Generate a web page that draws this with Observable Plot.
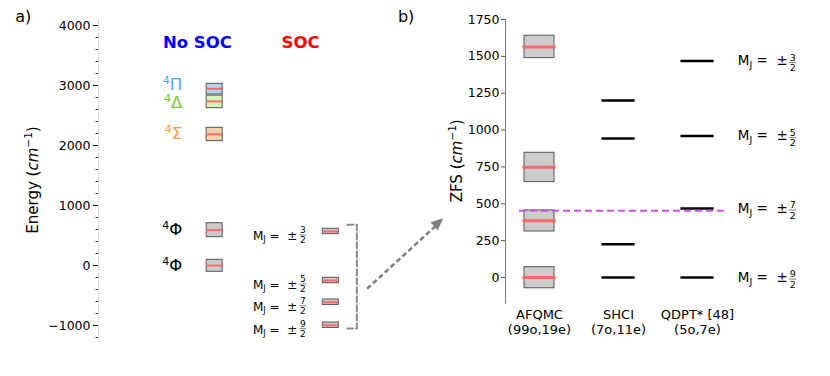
<!DOCTYPE html>
<html><head><meta charset="utf-8">
<script src="https://cdn.jsdelivr.net/npm/d3@7"></script>
<script src="https://cdn.jsdelivr.net/npm/@observablehq/plot@0.6"></script>
<style>
html,body{margin:0;padding:0;background:#fff;}
#chart{position:relative;width:830px;height:376px;overflow:hidden;font-family:"DejaVu Sans",sans-serif;}
#chart svg{position:absolute;top:0;overflow:visible;}
</style></head><body><div id="chart"></div>
<script>
const FONT = '"DejaVu Sans", sans-serif';

// ---------- Panel a) data ----------
const noSocTerms   = ["Φ", "Φ", "Σ", "Δ", "Π"];
const noSocEnergy  = [0, 590, 2185, 2735, 2945];
const noSocLow     = [-105, 472, 2072, 2622, 2850];
const noSocHigh    = [95, 705, 2295, 2832, 3028];
const noSocFill    = ["#cccccc", "#cccccc", "#f2d3ae", "#d6f5bb", "#aed6f3"];
const noSocText    = ["#000000", "#000000", "#f5993a", "#77cc33", "#4aa8f5"];
const socMJ        = [9, 7, 5, 3];          // numerators of M_J = ± n/2
const socEnergy    = [-995, -612, -250, 567];
const socHalfSpread = 45;
const energyTicks  = [-1000, 0, 1000, 2000, 3000, 4000];
const energyMinor  = [-1200, -800, -600, -400, -200, 200, 400, 600, 800, 1200, 1400, 1600, 1800,
                      2200, 2400, 2600, 2800, 3200, 3400, 3600, 3800];

// ---------- Panel b) data ----------
const methods      = ["AFQMC", "SHCI", "QDPT* [48]"];
const methodSpace  = ["(99o,19e)", "(7o,11e)", "(5o,7e)"];
const afqmcZFS     = [0, 385, 748, 1563];
const afqmcLow     = [-73, 312, 647, 1488];
const afqmcHigh    = [70, 455, 846, 1640];
const shciZFS      = [0, 226, 943, 1200];
const qdptZFS      = [0, 468, 959, 1468];
const qdptMJ       = [9, 7, 5, 3];
const referenceZFS = 452;
const zfsTicks     = [0, 250, 500, 750, 1000, 1250, 1500, 1750];

// ---------- layout (not data) ----------
const L = {width: 450, height: 376, mLeft: 98, mTop: 19, mBottom: 37.8,
  xDomain: [0, 100], yDomain: [-1220, 4100],
  colNoSoc: 33, colSoc: 66, boxHalf: 2.27, termX: 23.5, mjX: 44.0,
  bracketTick: 70.7, bracketX: 73.4, bracketTop: 111, bracketBottom: 55,
  arrowFrom: [76.3, -388], arrowTo: [98, 778],
  titleY: 3705, noSocX: 28.1, socX: 57.4, panelAX: -21.4, panelBX: 87.4, panelY: 4150};
const R = {left: 450, width: 380, height: 376, mLeft: 55, mTop: 19, mBottom: 72.46,
  xDomain: [-0.4304, 3.6835], yDomain: [-180, 1750],
  boxHalf: 0.19, redHalf: 0.21, lineHalf: 0.21, refFrom: -0.253, refTo: 2.342, mjX: 2.516};

const red = "#f86a6a";
const fmt = d => d < 0 ? "\u2212" + Math.abs(d) : String(d);

const noSoc = noSocTerms.map((t, i) => ({term: t, e: noSocEnergy[i], lo: noSocLow[i], hi: noSocHigh[i], fill: noSocFill[i], color: noSocText[i]}));
const soc = socMJ.map((n, i) => ({n, e: socEnergy[i]}));

const bracket = [
  {x: L.bracketTick, y: d3.max(socEnergy) + L.bracketTop},
  {x: L.bracketX, y: d3.max(socEnergy) + L.bracketTop},
  {x: L.bracketX, y: d3.min(socEnergy) - L.bracketBottom},
  {x: L.bracketTick, y: d3.min(socEnergy) - L.bracketBottom}
];

const left = Plot.plot({
  width: L.width, height: L.height,
  marginLeft: L.mLeft, marginRight: 0, marginTop: L.mTop, marginBottom: L.mBottom,
  x: {domain: L.xDomain, range: [L.mLeft, L.width], axis: null},
  y: {domain: L.yDomain},
  style: {fontFamily: FONT, color: "black", background: "transparent", overflow: "visible"},
  marks: [
    Plot.ruleX([L.xDomain[0]], {y1: L.yDomain[0], y2: L.yDomain[1], stroke: "#dadada", strokeWidth: 1}),
    Plot.axisY({ticks: energyMinor, tickSize: 2.5, tickFormat: () => "", label: null, stroke: "#333"}),
    Plot.axisY({ticks: energyTicks, tickSize: 5, tickPadding: 3, tickFormat: fmt, label: null, fontSize: 12.5, stroke: "black", fill: "black"}),
    Plot.rect(noSoc, {x1: L.colNoSoc - L.boxHalf, x2: L.colNoSoc + L.boxHalf, y1: "lo", y2: "hi", fill: d => d.fill, stroke: "#555", strokeWidth: 1}),
    Plot.ruleY(noSoc, {y: "e", x1: L.colNoSoc - L.boxHalf, x2: L.colNoSoc + L.boxHalf, stroke: red, strokeWidth: 2}),
    Plot.rect(soc, {x1: L.colSoc - L.boxHalf, x2: L.colSoc + L.boxHalf, y1: d => d.e - socHalfSpread, y2: d => d.e + socHalfSpread, fill: "#cccccc", stroke: "#555", strokeWidth: 1}),
    Plot.ruleY(soc, {y: "e", x1: L.colSoc - L.boxHalf, x2: L.colSoc + L.boxHalf, stroke: red, strokeWidth: 2}),
    Plot.text(["No SOC"], {x: L.noSocX, y: L.titleY, text: d => d, fill: "#0000ff", fontWeight: "bold", fontSize: 16.5}),
    Plot.text(["SOC"], {x: L.socX, y: L.titleY, text: d => d, fill: "#ff0000", fontWeight: "bold", fontSize: 16.5}),
    Plot.text(["a)"], {x: L.panelAX, y: L.panelY, text: d => d, fontSize: 16}),
    Plot.text(["b)"], {x: L.panelBX, y: L.panelY, text: d => d, fontSize: 16}),
    Plot.line(bracket, {x: "x", y: "y", stroke: "#8a8a8a", strokeWidth: 2, strokeDasharray: "6,3"}),
    Plot.link([0], {x1: L.arrowFrom[0], y1: L.arrowFrom[1], x2: L.arrowTo[0], y2: L.arrowTo[1], stroke: "#808080", strokeWidth: 2.5, strokeDasharray: "5,3"})
  ]
});

const methodIdx = methods.map((m, i) => i);
const afqmc = afqmcZFS.map((z, i) => ({z, lo: afqmcLow[i], hi: afqmcHigh[i]}));

const right = Plot.plot({
  width: R.width, height: R.height,
  marginLeft: R.mLeft, marginRight: 0, marginTop: R.mTop, marginBottom: R.mBottom,
  x: {domain: R.xDomain, range: [R.mLeft, R.width]},
  y: {domain: R.yDomain},
  style: {fontFamily: FONT, color: "black", background: "transparent", overflow: "visible"},
  marks: [
    Plot.ruleX([R.xDomain[0]], {y1: R.yDomain[0], y2: R.yDomain[1], stroke: "#7a7a7a", strokeWidth: 1}),
    Plot.axisY({ticks: zfsTicks, tickSize: 4, tickPadding: 2, tickFormat: fmt, label: null, fontSize: 12.5, stroke: "#555", fill: "black"}),
    Plot.axisX({ticks: methodIdx, tickSize: 0, tickPadding: 4.5, tickFormat: i => methods[i] + "\n" + methodSpace[i], label: null, fontSize: 13, lineHeight: 1.15, fill: "black"}),
    Plot.rect(afqmc, {x1: 0 - R.boxHalf, x2: 0 + R.boxHalf, y1: "lo", y2: "hi", fill: "#cccccc", stroke: "#555", strokeWidth: 1}),
    Plot.ruleY(afqmc, {y: "z", x1: 0 - R.redHalf, x2: 0 + R.redHalf, stroke: red, strokeWidth: 3}),
    Plot.ruleY(shciZFS, {y: d => d, x1: 1 - R.lineHalf, x2: 1 + R.lineHalf, stroke: "black", strokeWidth: 2.5}),
    Plot.ruleY(qdptZFS, {y: d => d, x1: 2 - R.lineHalf, x2: 2 + R.lineHalf, stroke: "black", strokeWidth: 2.5}),
    Plot.ruleY([referenceZFS], {x1: R.refFrom, x2: R.refTo, stroke: "#cf4ff2", strokeWidth: 2, strokeDasharray: "7,4"})
  ]
});

const chart = document.getElementById("chart");
left.style.left = "0px";
right.style.left = R.left + "px";
chart.appendChild(left);
chart.appendChild(right);

// ---------- rich text helpers ----------
function rich(svg, x, y, parts, opts = {}) {
  const t = d3.select(svg).append("text").attr("x", x).attr("y", y)
    .attr("font-family", FONT).attr("fill", opts.fill || "black")
    .attr("text-anchor", opts.anchor || "start").attr("font-size", opts.size || 12)
    .style("white-space", "pre");
  if (opts.rotate) t.attr("transform", `rotate(${opts.rotate} ${x} ${y})`);
  let cur = 0;
  for (const p of parts) {
    const s = t.append("tspan").text(p.text);
    if (p.size) s.attr("font-size", p.size);
    if (p.italic) s.attr("font-style", "italic");
    if (p.fill) s.attr("fill", p.fill);
    const shift = p.shift || 0;
    if (shift !== cur) { s.attr("dy", cur - shift); cur = shift; }
  }
  return t;
}
function mjLabel(svg, x, levelY, num, o) {
  const t = rich(svg, x, levelY + o.mBase, [
    {text: "M"}, {text: "J", size: o.size * 0.7, shift: -o.size * 0.22}, {text: " =\u00A0 ±", shift: 0}
  ], {size: o.size});
  const w = t.node().getComputedTextLength();
  const fx = x + w + o.gap;
  const bar = levelY + o.bar;
  const g = d3.select(svg).append("g").attr("font-family", FONT).attr("font-size", o.fsize).attr("text-anchor", "middle");
  g.append("text").attr("x", fx).attr("y", bar - 1.6).text(num);
  g.append("line").attr("x1", fx - o.fsize * 0.38).attr("x2", fx + o.fsize * 0.38)
    .attr("y1", bar).attr("y2", bar).attr("stroke", "#444").attr("stroke-width", 0.7);
  g.append("text").attr("x", fx).attr("y", bar + 1.6 + o.fsize * 0.73).text("2");
}

// Panel a: axis title, term labels, M_J labels, arrow head
const xl = left.scale("x"), yl = left.scale("y");
rich(left, 37.5, 180, [{text: "Energy ("}, {text: "cm", italic: true}, {text: "\u22121", size: 10.5, shift: 6}, {text: ")", shift: 0}],
  {size: 15, anchor: "middle", rotate: -90});
const termNudge = [0, 0, 0, 2, -3.5];
noSoc.forEach((d, i) => {
  rich(left, xl.apply(L.termX) + 1.5, yl.apply(d.e) + 5.5 + termNudge[i],
    [{text: "4", size: 11, shift: 6}, {text: d.term, size: 16.5, shift: 0}],
    {size: 16.5, anchor: "end", fill: d.color});
});
soc.forEach(d => mjLabel(left, xl.apply(L.mjX), yl.apply(d.e), d.n, {size: 12, fsize: 9, mBase: 8.8, bar: 4, gap: 5.5}));

{
  const tip = [xl.apply(L.arrowTo[0]), yl.apply(L.arrowTo[1])];
  const from = [xl.apply(L.arrowFrom[0]), yl.apply(L.arrowFrom[1])];
  const dx = tip[0] - from[0], dy = tip[1] - from[1], len = Math.hypot(dx, dy);
  const u = [dx / len, dy / len], n = [-u[1], u[0]];
  const hl = 12, hw = 5.5;
  const b = [tip[0] - hl * u[0], tip[1] - hl * u[1]];
  d3.select(left).append("path")
    .attr("d", `M${tip}L${b[0] + hw * n[0]},${b[1] + hw * n[1]}L${b[0] - hw * n[0]},${b[1] - hw * n[1]}Z`)
    .attr("fill", "#808080");
}

// Panel b: axis title, M_J labels
const xr = right.scale("x"), yr = right.scale("y");
rich(right, 11.7, 160.8, [{text: "ZFS ("}, {text: "cm", italic: true}, {text: "\u22121", size: 10.5, shift: 6}, {text: ")", shift: 0}],
  {size: 15, anchor: "middle", rotate: -90});
qdptZFS.forEach((z, i) => mjLabel(right, xr.apply(R.mjX), yr.apply(z), qdptMJ[i], {size: 13.5, fsize: 9.5, mBase: 4.8, bar: 2, gap: 5}));
</script>
</body></html>
